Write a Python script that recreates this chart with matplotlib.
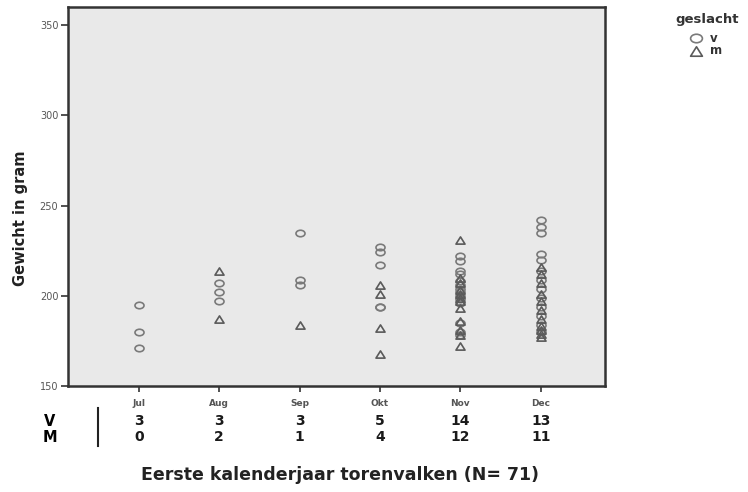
import numpy as np
import matplotlib
matplotlib.use("Agg")
import matplotlib.pyplot as plt
from matplotlib.lines import Line2D
from matplotlib.path import Path

plt.rcParams['font.family'] = ['Liberation Sans', 'DejaVu Sans']

months = ['Jul', 'Aug', 'Sep', 'Okt', 'Nov', 'Dec']
v_counts = [3, 3, 3, 5, 14, 13]
m_counts = [0, 2, 1, 4, 12, 11]

# gewicht per maand, v = circles, m = triangles
weights_v = [
    [195, 180, 171],
    [207, 202, 197],
    [235, 209, 206],
    [227, 224, 217, 194, 194],
    [222, 219, 214, 212, 208, 206, 204, 202, 200, 198, 196, 185, 180, 178],
    [242, 238, 235, 223, 220, 214, 209, 204, 199, 194, 189, 184, 180],
]
weights_m = [
    [],
    [214, 187],
    [184],
    [206, 201, 182, 168],
    [231, 210, 207, 203, 201, 199, 197, 193, 186, 181, 178, 172],
    [216, 212, 207, 201, 197, 192, 187, 183, 181, 179, 177],
]

# squashed markers, the original scan is stretched sideways
circ = Path.unit_circle()
ell = Path(circ.vertices * [1.0, 0.72], circ.codes)
tri = Path([(-1, -0.8), (0, 0.8), (1, -0.8), (-1, -0.8)], closed=True)

c_col = '#7a7a7a'
t_col = '#5a5a5a'
ms = 6.5
mew = 1.2

fig = plt.figure(figsize=(7.48, 4.92), dpi=100)
ax = fig.add_axes([0.091, 0.2154, 0.718, 0.7704])
ax.set_facecolor('#e9e9e9')

for i, (wv, wm) in enumerate(zip(weights_v, weights_m)):
    ax.plot([i + 1] * len(wv), wv, linestyle='none', marker=ell, ms=ms,
            mfc='none', mec=c_col, mew=mew)
    ax.plot([i + 1] * len(wm), wm, linestyle='none', marker=tri, ms=ms,
            mfc='none', mec=t_col, mew=mew)

ax.set_xlim(0.12, 6.8)
ax.set_ylim(150, 360)
ax.set_yticks([150, 200, 250, 300, 350])
ax.set_xticks(range(1, 7))
ax.set_xticklabels(months)
for s in ax.spines.values():
    s.set_linewidth(1.8)
    s.set_color('#333333')
ax.tick_params(axis='y', length=5, width=1.2, colors='#333333', pad=2)
ax.tick_params(axis='x', length=4, width=1.2, colors='#333333', pad=5)
for t in ax.get_yticklabels():
    t.set_family('DejaVu Sans')
    t.set_fontsize(7)
    t.set_color('#555555')
for t in ax.get_xticklabels():
    t.set_family('DejaVu Sans')
    t.set_fontsize(6.5)
    t.set_fontweight('bold')
    t.set_color('#555555')

fig.text(0.027, 1 - 218 / 492, 'Gewicht in gram', rotation=90, ha='center', va='center',
         fontsize=10.5, fontweight='bold', family='DejaVu Sans', color='#222222')

# tabel met aantallen onder de as
fig.text(50 / 748, 1 - 421 / 492, 'V', ha='center', va='center', fontsize=10.5,
         fontweight='bold', family='DejaVu Sans')
fig.text(50 / 748, 1 - 437 / 492, 'M', ha='center', va='center', fontsize=10.5,
         fontweight='bold', family='DejaVu Sans')
fig.add_artist(Line2D([98 / 748, 98 / 748], [1 - 408 / 492, 1 - 446 / 492],
                      color='#222222', lw=1.5))
for i in range(6):
    xf = ax.transData.transform((i + 1, 0))[0] / fig.bbox.width
    fig.text(xf, 1 - 421 / 492, str(v_counts[i]), ha='center', va='center',
             fontsize=10, fontweight='bold', family='DejaVu Sans', color='#1a1a1a')
    fig.text(xf, 1 - 437 / 492, str(m_counts[i]), ha='center', va='center',
             fontsize=10, fontweight='bold', family='DejaVu Sans', color='#1a1a1a')

fig.text(340 / 748, 1 - 475 / 492, 'Eerste kalenderjaar torenvalken (N= 71)',
         ha='center', va='center', fontsize=12.5, fontweight='bold',
         family='DejaVu Sans', color='#222222')

# legenda
fig.text(707 / 748, 1 - 20 / 492, 'geslacht', ha='center', va='center',
         fontsize=9.5, fontweight='bold', family='DejaVu Sans', color='#333333')
fig.add_artist(Line2D([696 / 748], [1 - 38 / 492], linestyle='none', marker=ell, ms=8.5,
                      mfc='none', mec=c_col, mew=mew))
fig.add_artist(Line2D([696 / 748], [1 - 51 / 492], linestyle='none', marker=tri, ms=8.5,
                      mfc='none', mec=t_col, mew=mew))
fig.text(710 / 748, 1 - 38 / 492, 'v', ha='left', va='center', fontsize=8.5,
         fontweight='bold', family='DejaVu Sans', color='#333333')
fig.text(710 / 748, 1 - 51 / 492, 'm', ha='left', va='center', fontsize=8.5,
         fontweight='bold', family='DejaVu Sans', color='#333333')

fig.savefig('out.png', dpi=100)
